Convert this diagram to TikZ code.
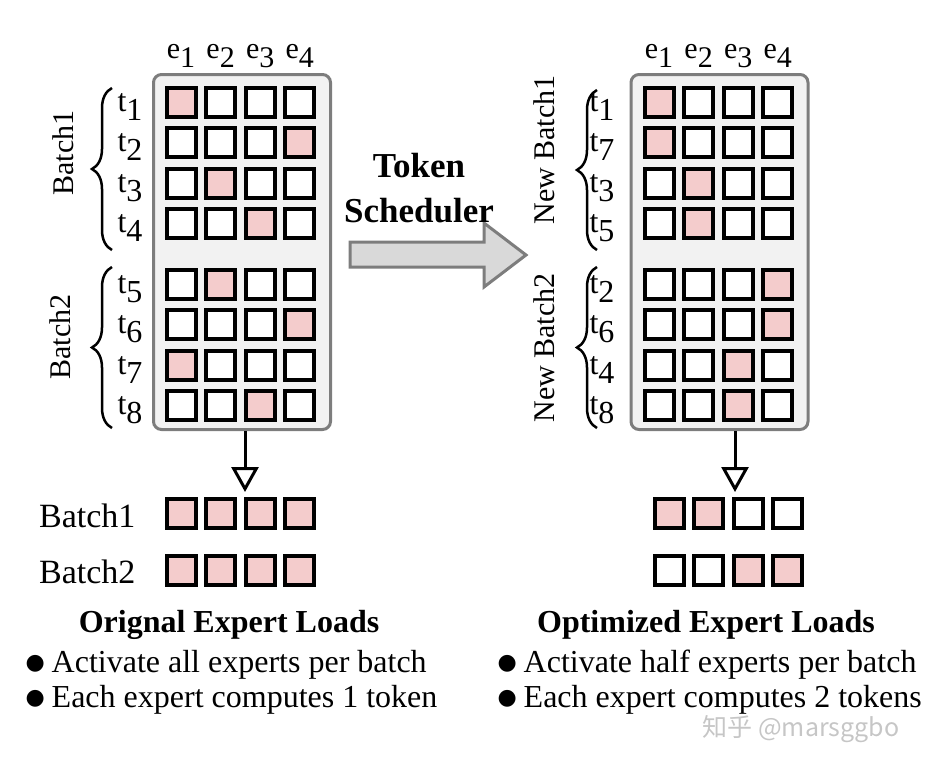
\documentclass[tikz,border=0pt]{standalone}
\usepackage{fontspec}
\setmainfont{Liberation Serif}
\newfontfamily\dotfont{DejaVu Sans}
\newfontfamily\cjkfont{Noto Sans CJK SC}
\usetikzlibrary{arrows.meta,decorations.pathreplacing}
\definecolor{loadpink}{RGB}{244,204,204}
\definecolor{panelgray}{RGB}{242,242,242}
\definecolor{edgegray}{RGB}{125,125,125}
\definecolor{arrowgray}{RGB}{217,217,217}
\newcommand\lowsub[1]{\raisebox{-9pt}{#1}}
\newcommand\blt{\raisebox{3pt}{\dotfont\fontsize{22}{22}\selectfont ●}\hspace{7pt}}

\begin{document}
\begin{tikzpicture}[x=1pt, y=-1pt,
  cell/.style={rectangle, draw, line width=4pt, minimum size=29pt, inner sep=0pt, outer sep=0pt},
  panel/.style={rectangle, draw=edgegray, fill=panelgray, line width=3pt, rounded corners=8pt, minimum width=177pt, minimum height=355pt},
  head/.style={font=\fontsize{30}{30}\selectfont, anchor=base},
  tok/.style={font=\fontsize{32}{32}\selectfont, anchor=base east},
  side/.style={font=\fontsize{30}{30}\selectfont, rotate=90},
  batch/.style={decorate, decoration={brace, amplitude=20pt}, line width=2.5pt},
  flow/.style={draw, line width=3pt, -{Triangle[width=27pt, length=25pt, fill=white]}},
  title/.style={font=\bfseries\fontsize{32}{32}\selectfont, anchor=base},
  note/.style={font=\fontsize{32}{32}\selectfont, anchor=base west},
  rowlbl/.style={font=\fontsize{34}{34}\selectfont, anchor=base east}
]
\useasboundingbox (0,0) rectangle (936,766);

\node [panel] (lpanel) at (242,252) {};
\node [panel] (rpanel) at (719.5,252) {};

\foreach \c in {1,...,4} {
  \node [head] (le\c) at (181+39.6*\c-39.6,58) {e\lowsub{\c}};
  \node [head] (re\c) at (659+39.6*\c-39.6,58) {e\lowsub{\c}};
}

\foreach \t/\e/\y [count=\r] in {1/1/102,2/4/142.5,3/2/183,4/3/223.5,5/2/284,6/4/324.5,7/1/365,8/3/405.5} {
  \node [tok] (lt\r) at (146,\y+9) {t\lowsub{\t}};
  \foreach \c in {1,...,4} {
    \ifnum\c=\e \def\cf{loadpink}\else\def\cf{white}\fi
    \node [cell, fill=\cf] (l\r\c) at (181+39.6*\c-39.6,\y) {};
  }
}
\foreach \t/\e/\y [count=\r] in {1/1/102,7/1/142.5,3/2/183,5/2/223.5,2/4/284,6/4/324.5,4/3/365,8/3/405.5} {
  \node [tok] (rt\r) at (618,\y+9) {t\lowsub{\t}};
  \foreach \c in {1,...,4} {
    \ifnum\c=\e \def\cf{loadpink}\else\def\cf{white}\fi
    \node [cell, fill=\cf] (r\r\c) at (659+39.6*\c-39.6,\y) {};
  }
}

\draw [batch] (112,250) -- (112,88);
\draw [batch] (112,428) -- (112,267);
\draw [batch] (597,250) -- (597,90);
\draw [batch] (597,428) -- (597,267);
\node [side] (lb1side) at (63,153) {Batch1};
\node [side] (lb2side) at (60,337) {Batch2};
\node [side] (rb1side) at (544,150) {New Batch1};
\node [side] (rb2side) at (544,348) {New Batch2};

\draw [draw=edgegray, fill=arrowgray, line width=3pt] (350,242) -- (484,242) -- (484,223) -- (526,255) -- (484,287) -- (484,267) -- (350,267) -- cycle;
\node [font=\bfseries\fontsize{35}{45}\selectfont, align=center] (sched) at (419,188) {Token\\Scheduler};

\coordinate (ltip) at (245,492);
\coordinate (rtip) at (735,492);
\path [flow] (lpanel.south -| ltip) -- (ltip);
\path [flow] (rpanel.south -| rtip) -- (rtip);

\foreach \c in {1,...,4} {
  \node [cell, fill=loadpink] (lo1\c) at (181+39.6*\c-39.6,513.5) {};
  \node [cell, fill=loadpink] (lo2\c) at (181+39.6*\c-39.6,570) {};
}
\foreach \c/\f/\g in {1/loadpink/white,2/loadpink/white,3/white/loadpink,4/white/loadpink} {
  \node [cell, fill=\f] (ro1\c) at (669+39.6*\c-39.6,513.5) {};
  \node [cell, fill=\g] (ro2\c) at (669+39.6*\c-39.6,570) {};
}
\node [rowlbl] (lo1) at (139,527) {Batch1};
\node [rowlbl] (lo2) at (139,583) {Batch2};

\node [title] (ltitle) at (229,632) {Orignal Expert Loads};
\node [title] (rtitle) at (706,632) {Optimized Expert Loads};
\node [note] (lnote1) at (22,672) {\blt Activate all experts per batch};
\node [note] (lnote2) at (22,707) {\blt Each expert computes 1 token};
\node [note] (rnote1) at (494,672) {\blt Activate half experts per batch};
\node [note] (rnote2) at (494,707) {\blt Each expert computes 2 tokens};

\node [font=\cjkfont\fontsize{25}{25}\selectfont, text=gray!45] (mark) at (801,729) {知乎 @marsggbo};
\end{tikzpicture}
\end{document}
